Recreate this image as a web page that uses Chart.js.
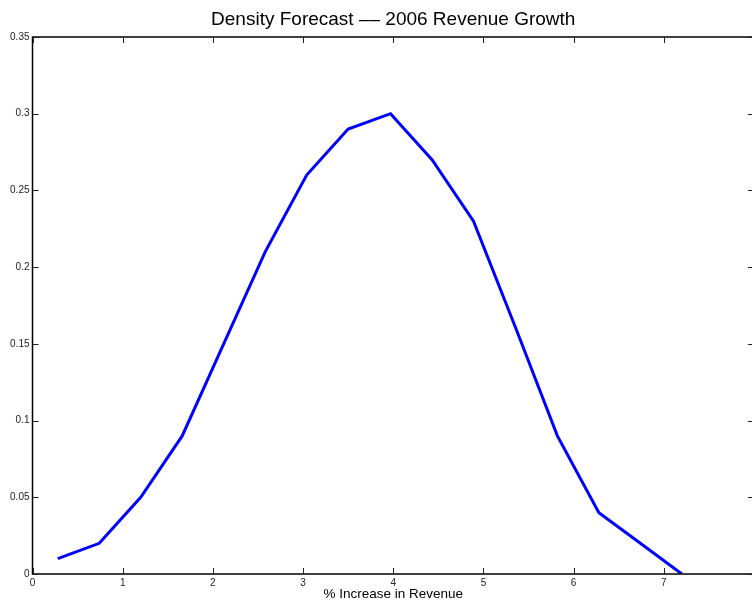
<!DOCTYPE html>
<html>
<head>
<meta charset="utf-8">
<script src="https://cdn.jsdelivr.net/npm/chart.js@4/dist/chart.umd.min.js"></script>
<style>
  html, body { margin: 0; padding: 0; overflow: hidden; background: #fff; }
  #wrap { width: 757px; height: 603px; }
</style>
</head>
<body>
<div id="wrap"><canvas id="chart" width="757" height="603"></canvas></div>
<script>
// growth (% increase) and its forecast density
const growth = [0.28, 0.74, 1.2, 1.66, 2.12, 2.58, 3.04, 3.5, 3.97, 4.43, 4.89, 5.36, 5.82, 6.28, 6.74, 7.2]
const density = [0.01, 0.02, 0.05, 0.09, 0.15, 0.21, 0.26, 0.29, 0.30, 0.27, 0.23, 0.16, 0.09, 0.04, 0.02, 0.0]
const xTicks = [0, 1, 2, 3, 4, 5, 6, 7, 8]
const xTickLabels = ['0', '1', '2', '3', '4', '5', '6', '7', '']
const yTicks = [0, 0.05, 0.1, 0.15, 0.2, 0.25, 0.3, 0.35]
const yTickLabels = ['0', '0.05', '0.1', '0.15', '0.2', '0.25', '0.3', '0.35']

const FONT = '"Liberation Sans", Arial, Helvetica, sans-serif'

// matlab style box with inward ticks on all four sides
const boxPlugin = {
  id: 'box',
  afterDraw(chart) {
    const { ctx, chartArea: a, scales } = chart
    ctx.save()
    ctx.strokeStyle = '#000'
    ctx.lineWidth = 1.5
    ctx.strokeRect(a.left, a.top, a.right - a.left, a.bottom - a.top)
    ctx.lineWidth = 1
    ctx.strokeStyle = '#222'
    const len = 6
    ctx.beginPath()
    xTicks.forEach(v => {
      const px = Math.round(scales.x.getPixelForValue(v)) + 0.5
      ctx.moveTo(px, a.bottom); ctx.lineTo(px, a.bottom - len)
      ctx.moveTo(px, a.top); ctx.lineTo(px, a.top + len)
    })
    yTicks.forEach(v => {
      const py = Math.round(scales.y.getPixelForValue(v)) + 0.5
      ctx.moveTo(a.left, py); ctx.lineTo(a.left + len, py)
      ctx.moveTo(a.right, py); ctx.lineTo(a.right - len, py)
    })
    ctx.stroke()
    ctx.restore()
  }
}

new Chart(document.getElementById('chart'), {
  type: 'line',
  data: {
    datasets: [{
      data: growth.map((g, i) => ({ x: g, y: density[i] })),
      borderColor: '#0000ff',
      borderWidth: 3,
      pointRadius: 0,
      tension: 0,
      fill: false
    }]
  },
  options: {
    responsive: false,
    animation: false,
    layout: { padding: 0 },
    plugins: {
      legend: { display: false },
      tooltip: { enabled: false },
      title: {
        display: true,
        fullSize: false,
        text: 'Density Forecast –– 2006 Revenue Growth',
        color: '#000',
        font: { family: FONT, size: 19, weight: 'normal', lineHeight: 1.2 },
        padding: { top: 8, bottom: 6.2 }
      }
    },
    scales: {
      x: {
        type: 'linear',
        min: 0,
        max: 8,
        afterBuildTicks: s => { s.ticks = xTicks.map(v => ({ value: v })) },
        afterFit: s => { s.height = 29 },
        grid: { display: false, drawTicks: false },
        border: { display: false },
        ticks: {
          autoSkip: false,
          maxRotation: 0,
          padding: 3,
          color: '#222',
          font: { family: FONT, size: 10 },
          callback: v => xTickLabels[xTicks.indexOf(v)]
        },
        title: {
          display: true,
          text: '% Increase in Revenue',
          color: '#000',
          font: { family: FONT, size: 13.5 },
          padding: { top: 0, bottom: 1 }
        }
      },
      y: {
        min: 0,
        max: 0.35,
        afterBuildTicks: s => { s.ticks = yTicks.map(v => ({ value: v })) },
        afterFit: s => { s.width = 32.5 },
        grid: { display: false, drawTicks: false },
        border: { display: false },
        ticks: {
          autoSkip: false,
          padding: 3,
          color: '#222',
          font: { family: FONT, size: 10 },
          callback: (v, i) => yTickLabels[i]
        }
      }
    }
  },
  plugins: [boxPlugin]
})
</script>
</body>
</html>
